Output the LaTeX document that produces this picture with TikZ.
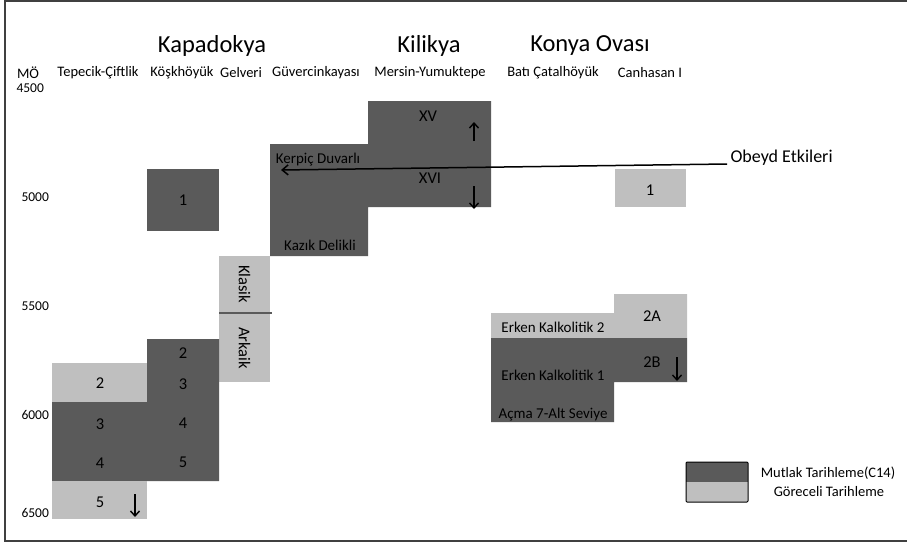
\documentclass[tikz,border=0pt]{standalone}
\usepackage{fontspec}
\setmainfont{Carlito}
\usetikzlibrary{arrows.meta}
\definecolor{mutlak}{HTML}{5A5A5A}
\definecolor{goreceli}{HTML}{BFBFBF}

\begin{document}
\begin{tikzpicture}[x=1pt, y=-1pt,
        bolge/.style={font=\fontsize{24.5}{26}\selectfont},
        yer/.style={font=\fontsize{14.5}{16}\selectfont},
        yil/.style={font=\fontsize{13.5}{15}\selectfont, anchor=west},
        katman/.style={font=\fontsize{15}{16}\selectfont},
        no/.style={font=\fontsize{16.5}{18}\selectfont},
        koyu/.style={fill=mutlak},
        acik/.style={fill=goreceli},
        ok/.style={-{Straight Barb[length=5pt,width=9pt]}, line width=1.4pt},
        uzunok/.style={-{Straight Barb[length=6pt,width=10pt]}, line width=1.5pt}]
        \useasboundingbox (0,0) rectangle (907,543);
        \draw[line width=1.5pt, black!75] (907,1) -- (5,1) -- (5,541) -- (907,541);

        \node[bolge] (kapadokya) at (212,46) {Kapadokya};
        \node[bolge] (kilikya) at (429,46) {Kilikya};
        \node[bolge] (konya) at (590,46) {Konya Ovası};

        \node[yer] (mo) at (28,73) {MÖ};
        \node[yer] (tepecik) at (98,73) {Tepecik-Çiftlik};
        \node[yer] (koskhoyuk) at (182,73) {Köşkhöyük};
        \node[yer] (gelveri) at (241,73) {Gelveri};
        \node[yer] (guvercin) at (316,73) {Güvercinkayası};
        \node[yer] (mersin) at (430,73) {Mersin-Yumuktepe};
        \node[yer] (bati) at (553,73) {Batı Çatalhöyük};
        \node[yer] (canhasan) at (650,73) {Canhasan I};

        \node[yil] (y4500) at (13,88) {4500};
        \node[yil] (y5000) at (18,197) {5000};
        \node[yil] (y5500) at (18,306) {5500};
        \node[yil] (y6000) at (18,415) {6000};
        \node[yil] (y6500) at (18,513) {6500};

        \fill[koyu] (270,144) -- (368,144) -- (368,101) -- (491,101) -- (491,207)
            -- (368,207) -- (368,256) -- (270,256) -- cycle;
        \fill[koyu] (147,169) rectangle (219,231);
        \fill[acik] (219,256) rectangle (270,382);
        \draw[mutlak, line width=1.5pt] (219,313) -- (272,313);
        \fill[acik] (52,363) rectangle (147,402);
        \fill[koyu] (52,402) -- (147,402) -- (147,339) -- (219,339) -- (219,481)
            -- (52,481) -- cycle;
        \fill[acik] (52,481) rectangle (147,519);
        \fill[acik] (615,169) rectangle (686,207);
        \fill[acik] (491,313) -- (614,313) -- (614,294) -- (687,294) -- (687,338)
            -- (491,338) -- cycle;
        \fill[koyu] (491,338) -- (687,338) -- (687,382) -- (614,382) -- (614,422)
            -- (491,422) -- cycle;

        \node[no] (kosk1) at (183,200) {1};
        \node[katman] (kerpic) at (318,160) {Kerpiç Duvarlı};
        \node[katman] (kazik) at (320,245) {Kazık Delikli};
        \node[no] (xv) at (428,116) {XV};
        \node[no] (xvi) at (430,178) {XVI};
        \node[no, rotate=-90] (klasik) at (244.5,284) {Klasik};
        \node[no, rotate=-90] (arkaik) at (244.5,348) {Arkaik};

        \node[no] (kosk2) at (183,353) {2};
        \node[no] (kosk3) at (183,384) {3};
        \node[no] (kosk4) at (183,423) {4};
        \node[no] (kosk5) at (183,462) {5};
        \node[no] (tep2) at (100,383) {2};
        \node[no] (tep3) at (100,424) {3};
        \node[no] (tep4) at (100,463) {4};
        \node[no] (tep5) at (100,502) {5};

        \node[no] (can1) at (650,190) {1};
        \node[no] (can2a) at (652,316) {2A};
        \node[no] (can2b) at (652,362) {2B};
        \node[katman] (ek2) at (553,327) {Erken Kalkolitik 2};
        \node[katman] (ek1) at (553,375) {Erken Kalkolitik 1};
        \node[katman] (acma) at (553,415) {Açma 7-Alt Seviye};

        \coordinate (xvalt) at (474,141);
        \coordinate (xvust) at (474,122);
        \coordinate (xviust) at (474,186);
        \coordinate (xvialt) at (474,209);
        \coordinate (tepust) at (135,494);
        \coordinate (tepalt) at (135,517);
        \coordinate (ikibust) at (677,357);
        \coordinate (ikibalt) at (677,381);
        \draw[ok] (xvalt) -- (xvust);
        \draw[ok] (xviust) -- (xvialt);
        \draw[ok] (tepust) -- (tepalt);
        \draw[ok] (ikibust) -- (ikibalt);

        \node[font=\fontsize{18}{20}\selectfont, anchor=west] (obeyd) at (727,158) {Obeyd Etkileri};
        \coordinate (obeydson) at (281,170);
        \draw[uzunok] ([yshift=-6pt]obeyd.west) -- (obeydson);

        \fill[koyu] (686,462) rectangle (748,482);
        \fill[acik] (686,482) rectangle (748,502);
        \draw[line width=1pt, rounded corners=1pt] (686,462) rectangle (748,502);
        \node[yer] (mutlakyazi) at (828,473) {Mutlak Tarihleme(C14)};
        \node[yer] (goreceliyazi) at (829,492) {Göreceli Tarihleme};
\end{tikzpicture}
\end{document}
